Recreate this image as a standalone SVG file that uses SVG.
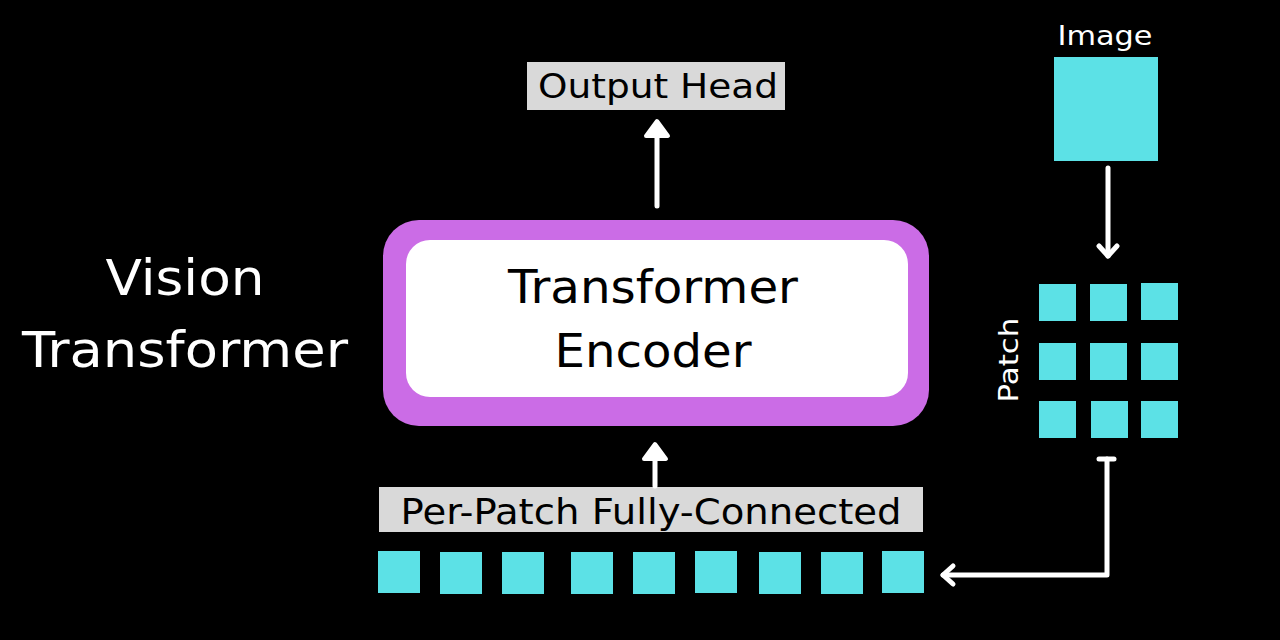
<svg xmlns="http://www.w3.org/2000/svg" width="1280" height="640" viewBox="0 0 1280 640">
<defs>
<style>
.sq{fill:#5ce1e6}
.lbl{fill:#d9d9d9}
.t{font-family:"DejaVu Sans","Liberation Sans",sans-serif;}
.w{fill:#ffffff}
.k{fill:#000000}
.ln{stroke:#ffffff;stroke-width:5;fill:none;stroke-linecap:round;stroke-linejoin:round}
.hd{fill:#ffffff;stroke:#ffffff;stroke-width:4;stroke-linejoin:round}
</style>
</defs>
<rect width="1280" height="640" fill="#000"/>
<g id="title">
<text class="t w" x="185" y="295" font-size="50" text-anchor="middle" textLength="159" lengthAdjust="spacingAndGlyphs">Vision</text>
<text class="t w" x="185" y="367" font-size="50" text-anchor="middle" textLength="326" lengthAdjust="spacingAndGlyphs">Transformer</text>
</g>
<g id="output-head">
<rect class="lbl" x="527" y="62" width="258" height="48"/>
<text class="t k" x="658" y="98" font-size="34" text-anchor="middle" textLength="240" lengthAdjust="spacingAndGlyphs">Output Head</text>
</g>
<g id="encoder">
<rect x="383" y="220" width="546" height="206" rx="36" fill="#cb6ce6"/>
<rect x="406" y="240" width="502" height="157" rx="24" fill="#ffffff"/>
<text class="t k" x="653" y="303" font-size="46" text-anchor="middle" textLength="290" lengthAdjust="spacingAndGlyphs">Transformer</text>
<text class="t k" x="653" y="367" font-size="46" text-anchor="middle" textLength="197" lengthAdjust="spacingAndGlyphs">Encoder</text>
</g>
<g id="per-patch">
<rect class="lbl" x="379" y="487" width="544" height="45"/>
<text class="t k" x="651" y="524" font-size="36" text-anchor="middle" textLength="501" lengthAdjust="spacingAndGlyphs">Per-Patch Fully-Connected</text>
</g>
<g id="image">
<text class="t w" x="1105" y="45" font-size="27" text-anchor="middle" textLength="95" lengthAdjust="spacingAndGlyphs">Image</text>
<rect class="sq" x="1054" y="57" width="104" height="104"/>
</g>
<g id="patch-grid">
<text class="t w" x="0" y="0" font-size="27" text-anchor="middle" textLength="85" lengthAdjust="spacingAndGlyphs" transform="translate(1018 360) rotate(-90)">Patch</text>
<rect class="sq" x="1039" y="284" width="37" height="37"/>
<rect class="sq" x="1090" y="284" width="37" height="37"/>
<rect class="sq" x="1141" y="283" width="37" height="37"/>
<rect class="sq" x="1039" y="343" width="37" height="37"/>
<rect class="sq" x="1090" y="343" width="37" height="37"/>
<rect class="sq" x="1141" y="343" width="37" height="37"/>
<rect class="sq" x="1039" y="401" width="37" height="37"/>
<rect class="sq" x="1091" y="401" width="37" height="37"/>
<rect class="sq" x="1141" y="401" width="37" height="37"/>
</g>
<g id="patch-sequence">
<rect class="sq" x="378" y="551" width="42" height="42"/>
<rect class="sq" x="440" y="552" width="42" height="42"/>
<rect class="sq" x="502" y="552" width="42" height="42"/>
<rect class="sq" x="571" y="552" width="42" height="42"/>
<rect class="sq" x="633" y="552" width="42" height="42"/>
<rect class="sq" x="695" y="551" width="42" height="42"/>
<rect class="sq" x="759" y="552" width="42" height="42"/>
<rect class="sq" x="821" y="552" width="42" height="42"/>
<rect class="sq" x="882" y="551" width="42" height="42"/>
</g>
<g id="connectors">
<line class="ln" x1="657" y1="206" x2="657" y2="135"/>
<path class="hd" d="M657 121 L668 136 L646 136 Z"/>
<line class="ln" x1="655" y1="486" x2="655" y2="458"/>
<path class="hd" d="M655 444 L666 459 L644 459 Z"/>
<line class="ln" x1="1108" y1="168" x2="1108" y2="256"/>
<path class="ln" d="M1099 246 L1108 256 L1117 246"/>
<line class="ln" x1="1099" y1="459" x2="1114" y2="459" stroke-width="6"/>
<path class="ln" d="M1107 459 L1107 575 L943 575"/>
<path class="ln" d="M953 566 L943 575 L953 584"/>
</g>
</svg>
